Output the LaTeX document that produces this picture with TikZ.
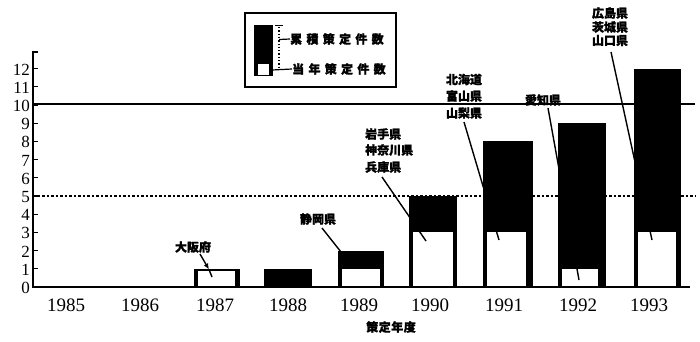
\documentclass[tikz,border=0pt]{standalone}
\usepackage{fontspec}
\setmainfont{Liberation Serif}
\newfontfamily\cjk[BoldFeatures={FakeBold=1.3}]{Noto Sans CJK JP}
\usetikzlibrary{arrows.meta}
\tikzset{
  jp/.style={font=\cjk\bfseries\fontsize{12}{12}\selectfont, inner sep=0pt},
  yearlbl/.style={font=\fontsize{19}{20}\selectfont, inner sep=0pt},
  ynum/.style={font=\fontsize{17}{17}\selectfont, inner sep=0pt, anchor=east},
  leader/.style={line width=1.4pt},
  axisline/.style={line width=2pt},
}
\newcommand{\jsp}{\kern4.3pt}
\begin{document}
\begin{tikzpicture}[x=1pt,y=-1pt]
\useasboundingbox (0,0) rectangle (700,341);
% bars: x0, x1, top value, white x0, white x1, white top y
\foreach \xa/\xb/\v/\wa/\wb/\wt in {
  194/240/1/197.5/234.5/271.3,
  338/384/2/341.5/380/268.8,
  409/457/5/413/453/232.4,
  483/533/8/486.5/526/232.4,
  558/606/9/562/598/268.8,
  634/681/12/637.5/675.5/232.4}{
  \fill (\xa,287) rectangle (\xb,{287-18.2*\v});
  \fill[white] (\wa,286) rectangle (\wb,\wt);
}
\fill (264,287) rectangle (312,{287-18.2});
% reference lines
\coordinate (h10a) at (33,104);
\coordinate (h10b) at (695,104);
\draw[line width=1.5pt] (h10a) -- (h10b);
\coordinate (h5a) at (33,196);
\coordinate (h5b) at (695,196);
\draw[line width=1.4pt, dash pattern=on 2.5pt off 2pt] (h5a) -- (h5b);
% axes
\coordinate (o) at (33,287);
\coordinate (ytop) at (33,52);
\coordinate (xend) at (690,287);
\draw[axisline] (xend) -- (o) -- (ytop) -- ++(5,0);
\foreach \i in {1,...,12}{
  \draw[line width=1.3pt] (33,{287-18.2*\i}) -- ++(5,0);
}
\foreach \i in {0,...,12}{
  \node[ynum] (yn\i) at (30,{288-18.2*\i}) {\i};
}
% year labels
\foreach \yr/\xc in {1985/66,1986/140,1987/215,1988/288,1989/359,1990/430,1991/504,1992/578,1993/649}{
  \node[yearlbl] (yr\yr) at (\xc,305) {\yr};
}
\node[jp] (xlabel) at (391,327) {策\kern0.5pt 定\kern0.5pt 年\kern0.5pt 度};
% prefecture labels
\node[jp] (osaka) at (193,247) {大阪府};
\node[jp] (shizuoka) at (318,219) {静岡県};
\node[jp, anchor=west] (iwate) at (365,134) {岩手県};
\node[jp, anchor=west] (kanagawa) at (365,150) {神奈川県};
\node[jp, anchor=west] (hyogo) at (365,167) {兵庫県};
\node[jp] (hokkaido) at (464,79.5) {北海道};
\node[jp] (toyama) at (464,96) {富山県};
\node[jp] (yamanashi) at (464,113) {山梨県};
\node[jp] (aichi) at (543,100) {愛知県};
\node[jp] (hiroshima) at (610,13) {広島県};
\node[jp] (ibaraki) at (610,27) {茨城県};
\node[jp] (yamaguchi) at (610,40.5) {山口県};
% leader lines
\coordinate (la1) at (200,254);
\coordinate (la2) at (209,269.5);
\coordinate (la3) at (212,277);
\draw[leader, -{Latex[length=6pt,width=5pt]}] (la1) -- (la2);
\draw[leader] (la2) -- (la3);
\coordinate (lb1) at (322,228);
\coordinate (lb2) at (341,252);
\draw[leader] (lb1) -- (lb2);
\coordinate (lc1) at (382,177);
\coordinate (lc2) at (426,241);
\draw[leader] (lc1) -- (lc2);
\coordinate (ld1) at (464,122);
\coordinate (ld2) at (499,240);
\draw[leader] (ld1) -- (ld2);
\coordinate (le1) at (548,108);
\coordinate (le2) at (579,280);
\draw[leader] (le1) -- (le2);
\coordinate (lf1) at (611,52);
\coordinate (lf2) at (652,240);
\draw[leader] (lf1) -- (lf2);
% legend
\draw[line width=1.3pt] (245,13) rectangle (396,87);
\fill (254,25) rectangle (273,76);
\fill[white] (258,63.5) rectangle (269,74.5);
\coordinate (dt1) at (279,27);
\coordinate (dt2) at (279,68);
\draw[dotted, line width=1.3pt] (dt1) -- (dt2);
\coordinate (tk1) at (275,25);
\coordinate (tk2) at (283,25);
\draw[line width=1pt] (tk1) -- (tk2);
\node[jp, anchor=west] (lg1) at (290,39) {累\jsp 積\jsp 策\jsp 定\jsp 件\jsp 数};
\node[jp, anchor=west] (lg2) at (292,69) {当\jsp 年\jsp 策\jsp 定\jsp 件\jsp 数};
\coordinate (lgd1) at (279,39.5);
\draw[line width=1.2pt] (lgd1) -- (lg1.west);
\coordinate (lgd2) at (272,70);
\draw[line width=1.2pt] (lgd2) -- (lg2.west);
\end{tikzpicture}
\end{document}
